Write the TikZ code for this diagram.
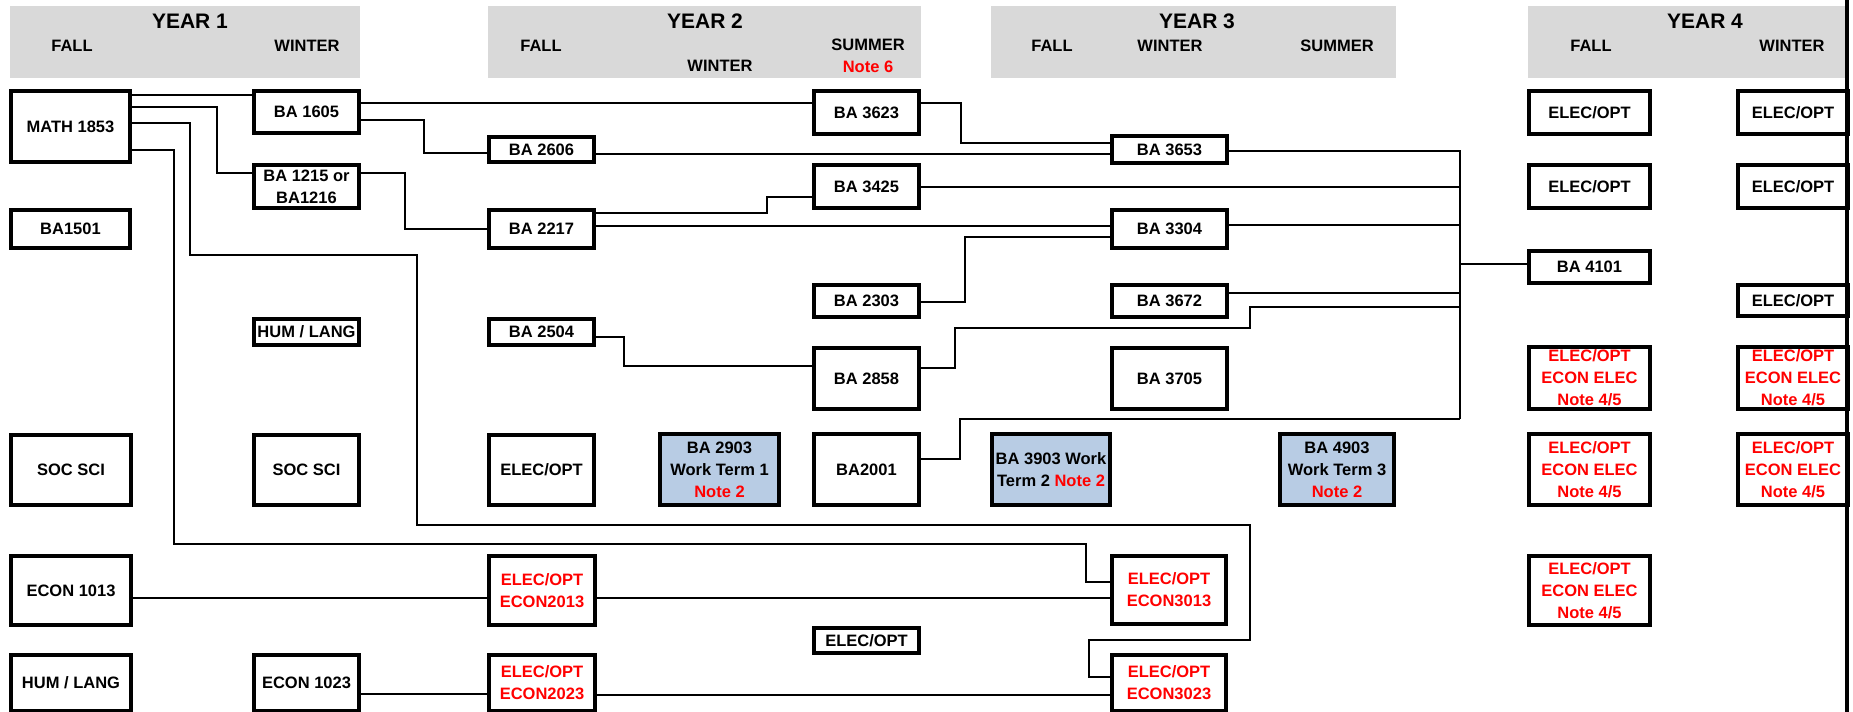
\documentclass[tikz,border=0pt]{standalone}
\usepackage{fontspec}
\setmainfont{Liberation Sans}
\definecolor{crsred}{HTML}{FF0000}
\definecolor{crsblue}{HTML}{B8CCE4}
\definecolor{crsgray}{HTML}{D9D9D9}
\tikzset{
  crsbox/.style={draw=black, line width=4.2pt, fill=white, inner sep=0pt, align=center,
    font=\fontsize{16.5}{22}\selectfont\bfseries, text=black},
  redtxt/.style={text=crsred},
  bluebox/.style={fill=crsblue},
  hdr/.style={fill=crsgray, draw=none, inner sep=0pt},
  hdrtitle/.style={inner sep=0pt, font=\fontsize{21}{25}\selectfont\bfseries},
  hdrsub/.style={inner sep=0pt, font=\fontsize{16.5}{20}\selectfont\bfseries},
  link/.style={draw=black, line width=2.3pt, line join=miter},
}
\newcommand{\crsbox}[7][]{%
  \node[crsbox,#1,minimum width={#5-#3-4.2},minimum height={#6-#4-4.2}] (#2) at ({(#3+#5)/2},{(#4+#6)/2}) {#7};}
\newcommand{\hdrbox}[5]{%
  \node[hdr,minimum width={#4-#2},minimum height={#5-#3}] (#1) at ({(#2+#4)/2},{(#3+#5)/2}) {};}
\begin{document}
\begin{tikzpicture}[x=1pt,y=-1pt]
\useasboundingbox (0,0) rectangle (1853,712);
\fill[white] (0,0) rectangle (1853,712);
\clip (0,0) rectangle (1853,712);

% headers
\hdrbox{hy1}{10}{6}{360}{78}
\hdrbox{hy2}{488}{6}{921}{78}
\hdrbox{hy3}{991}{6}{1396}{78}
\hdrbox{hy4}{1528}{6}{1846}{78}

\node[hdrtitle] (t1) at (190,21) {YEAR 1};
\node[hdrsub] (t1f) at (72,46) {FALL};
\node[hdrsub] (t1w) at (307,46) {WINTER};
\node[hdrtitle] (t2) at (705,21) {YEAR 2};
\node[hdrsub] (t2f) at (541,46) {FALL};
\node[hdrsub] (t2w) at (720,66) {WINTER};
\node[hdrsub] (t2s) at (868,45) {SUMMER};
\node[hdrsub,text=crsred] (t2n) at (868,67) {Note 6};
\node[hdrtitle] (t3) at (1197,21) {YEAR 3};
\node[hdrsub] (t3f) at (1052,46) {FALL};
\node[hdrsub] (t3w) at (1170,46) {WINTER};
\node[hdrsub] (t3s) at (1337,46) {SUMMER};
\node[hdrtitle] (t4) at (1705,21) {YEAR 4};
\node[hdrsub] (t4f) at (1591,46) {FALL};
\node[hdrsub] (t4w) at (1792,46) {WINTER};

% column A
\crsbox{math}{9}{89}{132}{164}{MATH 1853}
\crsbox{ba1501}{9}{208}{132}{250}{BA1501}
\crsbox{socA}{9}{433}{133}{507}{SOC SCI}
\crsbox{econ1013}{9}{554}{133}{627}{ECON 1013}
\crsbox{humA}{9}{653}{133}{713}{HUM / LANG}
% column B
\crsbox{ba1605}{252}{89}{361}{135}{BA 1605}
\crsbox{ba1215}{252}{163}{361}{210}{BA 1215 or\\BA1216}
\crsbox{humB}{252}{317}{361}{347}{HUM / LANG}
\crsbox{socB}{252}{433}{361}{507}{SOC SCI}
\crsbox{econ1023}{252}{653}{361}{713}{ECON 1023}
% column C
\crsbox{ba2606}{487}{135}{596}{164}{BA 2606}
\crsbox{ba2217}{487}{208}{596}{250}{BA 2217}
\crsbox{ba2504}{487}{317}{596}{347}{BA 2504}
\crsbox{elecC}{487}{433}{596}{507}{ELEC/OPT}
\crsbox[redtxt]{econ2013}{487}{554}{597}{627}{ELEC/OPT\\ECON2013}
\crsbox[redtxt]{econ2023}{487}{653}{597}{713}{ELEC/OPT\\ECON2023}
% work term 1
\crsbox[bluebox]{ba2903}{658}{432}{781}{507}{BA 2903\\Work Term 1\\\textcolor{crsred}{Note 2}}
% column E
\crsbox{ba3623}{812}{89}{921}{136}{BA 3623}
\crsbox{ba3425}{812}{163}{921}{210}{BA 3425}
\crsbox{ba2303}{812}{283}{921}{319}{BA 2303}
\crsbox{ba2858}{812}{346}{921}{411}{BA 2858}
\crsbox{ba2001}{812}{432}{921}{507}{BA2001}
\crsbox{elecE}{812}{626}{921}{655}{ELEC/OPT}
% work term 2
\crsbox[bluebox]{ba3903}{990}{432}{1112}{507}{BA 3903 Work\\Term 2 \textcolor{crsred}{Note 2}}
% column G
\crsbox{ba3653}{1110}{134}{1229}{165}{BA 3653}
\crsbox{ba3304}{1110}{208}{1229}{250}{BA 3304}
\crsbox{ba3672}{1110}{283}{1229}{319}{BA 3672}
\crsbox{ba3705}{1110}{346}{1229}{411}{BA 3705}
\crsbox[redtxt]{econ3013}{1110}{554}{1228}{626}{ELEC/OPT\\ECON3013}
\crsbox[redtxt]{econ3023}{1110}{653}{1228}{713}{ELEC/OPT\\ECON3023}
% work term 3
\crsbox[bluebox]{ba4903}{1278}{432}{1396}{507}{BA 4903\\Work Term 3\\\textcolor{crsred}{Note 2}}
% column I
\crsbox{elecI1}{1527}{89}{1652}{136}{ELEC/OPT}
\crsbox{elecI2}{1527}{163}{1652}{210}{ELEC/OPT}
\crsbox{ba4101}{1527}{249}{1652}{285}{BA 4101}
\crsbox[redtxt]{redI1}{1527}{345}{1652}{411}{ELEC/OPT\\ECON ELEC\\Note 4/5}
\crsbox[redtxt]{redI2}{1527}{432}{1652}{507}{ELEC/OPT\\ECON ELEC\\Note 4/5}
\crsbox[redtxt]{redI3}{1527}{554}{1652}{627}{ELEC/OPT\\ECON ELEC\\Note 4/5}
% column J
\crsbox{elecJ1}{1736}{89}{1850}{136}{ELEC/OPT}
\crsbox{elecJ2}{1736}{163}{1850}{210}{ELEC/OPT}
\crsbox{elecJ3}{1736}{283}{1850}{318}{ELEC/OPT}
\crsbox[redtxt]{redJ1}{1736}{345}{1850}{411}{ELEC/OPT\\ECON ELEC\\Note 4/5}
\crsbox[redtxt]{redJ2}{1736}{432}{1850}{507}{ELEC/OPT\\ECON ELEC\\Note 4/5}

% collector
\coordinate (ctop) at (1460,151);
\coordinate (cmid) at (1460,264);
\coordinate (cbot) at (1460,419);

% connectors
\draw[link] (math.east |- 0,95) -- (ba1605.west |- 0,95);
\draw[link] (math.east |- 0,107) -- (217,107) -- (217,173) -- (ba1215.west |- 0,173);
\draw[link] (math.east |- 0,123) -- (190,123) -- (190,255) -- (417,255) -- (417,525) -- (1250,525) -- (1250,640) -- (1089,640) -- (1089,677) -- (econ3023.west |- 0,677);
\draw[link] (math.east |- 0,150) -- (174,150) -- (174,544) -- (1086,544) -- (1086,582) -- (econ3013.west |- 0,582);
\draw[link] (ba1605.east |- 0,103) -- (ba3623.west |- 0,103);
\draw[link] (ba1605.east |- 0,120) -- (424,120) -- (424,153) -- (ba2606.west |- 0,153);
\draw[link] (ba2606.east |- 0,154) -- (ba3653.west |- 0,154);
\draw[link] (ba3623.east |- 0,103) -- (961,103) -- (961,143) -- (ba3653.west |- 0,143);
\draw[link] (ba1215.east |- 0,173) -- (405,173) -- (405,229) -- (ba2217.west |- 0,229);
\draw[link] (ba2217.east |- 0,213) -- (767,213) -- (767,197) -- (ba3425.west |- 0,197);
\draw[link] (ba2217.east |- 0,226) -- (ba3304.west |- 0,226);
\draw[link] (ba2303.east |- 0,302) -- (965,302) -- (965,237) -- (ba3304.west |- 0,237);
\draw[link] (ba2504.east |- 0,337) -- (624,337) -- (624,366) -- (ba2858.west |- 0,366);
\draw[link] (ba2858.east |- 0,368) -- (955,368) -- (955,328) -- (1250,328) -- (1250,307) -- (ctop |- 0,307);
\draw[link] (ba3653.east |- ctop) -- (ctop) -- (cbot);
\draw[link] (ba3425.east |- 0,187) -- (ctop |- 0,187);
\draw[link] (ba3304.east |- 0,225) -- (ctop |- 0,225);
\draw[link] (ba3672.east |- 0,293) -- (ctop |- 0,293);
\draw[link] (ba2001.east |- 0,459) -- (960,459) -- (960,419) -- (cbot);
\draw[link] (cmid) -- (ba4101.west |- cmid);
\draw[link] (econ1013.east |- 0,598) -- (econ2013.west |- 0,598);
\draw[link] (econ2013.east |- 0,598) -- (econ3013.west |- 0,598);
\draw[link] (econ1023.east |- 0,694) -- (econ2023.west |- 0,694);
\draw[link] (econ2023.east |- 0,695) -- (econ3023.west |- 0,695);

% right edge bar
\draw[line width=4pt] (1847,0) -- (1847,712);
\end{tikzpicture}
\end{document}
